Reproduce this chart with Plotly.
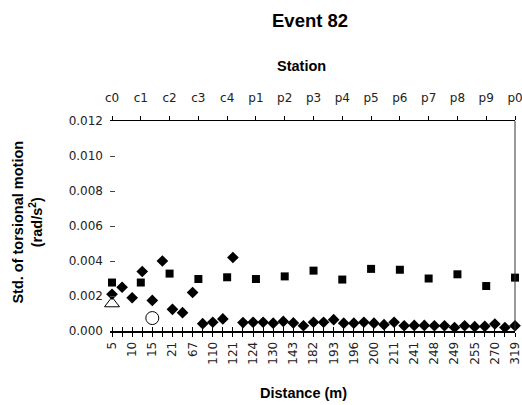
import plotly.graph_objects as go

# ---- data ----
distance_labels = ["5", "10", "15", "21", "67", "110", "121", "124", "130", "143",
                   "182", "193", "196", "200", "211", "241", "248", "249", "255", "270", "319"]
# 41 sensor positions on the distance (category) axis; labels shown every other position
sensor_pos = list(range(41))
diamond_vals = [0.0021, 0.0025, 0.0019, 0.0034, 0.00175, 0.0040, 0.00124, 0.00105, 0.0022,
                0.00042, 0.0005, 0.00069, 0.0042, 0.00048, 0.0005, 0.0005, 0.00045, 0.00055,
                0.00046, 0.0003, 0.0005, 0.0005, 0.00065, 0.00045, 0.00045, 0.0005, 0.00045,
                0.00036, 0.0005, 0.0003, 0.00032, 0.00032, 0.0003, 0.0003, 0.0002, 0.0003,
                0.00025, 0.00027, 0.0004, 0.0002, 0.0003]

stations = ["c0", "c1", "c2", "c3", "c4", "p1", "p2", "p3", "p4", "p5", "p6", "p7", "p8", "p9", "p0"]
square_vals = [0.00277, 0.00277, 0.00328, 0.00297, 0.00307, 0.00297, 0.00312, 0.00345,
               0.00294, 0.00355, 0.0035, 0.0030, 0.00324, 0.00257, 0.00305]

triangle_pos = [0]
triangle_vals = [0.00157]
circle_pos = [4]
circle_vals = [0.00074]

y_ticks = [0.000, 0.002, 0.004, 0.006, 0.008, 0.010, 0.012]

FONT = "Liberation Sans, Arial, sans-serif"
TICKFONT = "DejaVu Sans, Liberation Sans, sans-serif"
bottom_ticktext = [distance_labels[i // 2] if i % 2 == 0 else " " for i in sensor_pos]
x_range = [-0.2, 40]
x2_range = [-0.07, 14]

fig = go.Figure()
fig.add_trace(go.Scatter(x=sensor_pos, y=diamond_vals, mode="markers", xaxis="x", yaxis="y",
                         marker=dict(symbol="diamond", size=9, color="black"), cliponaxis=False,
                         showlegend=False))
fig.add_trace(go.Scatter(x=stations, y=square_vals, mode="markers", xaxis="x2", yaxis="y",
                         marker=dict(symbol="square", size=8, color="black"), cliponaxis=False,
                         showlegend=False))
fig.add_trace(go.Scatter(x=triangle_pos, y=triangle_vals, mode="markers", xaxis="x3", yaxis="y",
                         marker=dict(symbol="triangle-up-open", size=13, color="black",
                                     line=dict(width=1, color="black")), cliponaxis=False,
                         showlegend=False))
fig.add_trace(go.Scatter(x=circle_pos, y=circle_vals, mode="markers", xaxis="x3", yaxis="y",
                         marker=dict(symbol="circle-open", size=13, color="black",
                                     line=dict(width=1, color="black")), cliponaxis=False,
                         showlegend=False))

tickfont = dict(family=TICKFONT, size=12, color="#222")

fig.update_layout(
    width=522, height=405,
    margin=dict(l=110, r=7, t=121, b=74, autoexpand=False),
    paper_bgcolor="white", plot_bgcolor="white",
    xaxis=dict(range=x_range, tickmode="array", tickvals=sensor_pos, ticktext=bottom_ticktext,
               tickangle=-90, ticks="outside", ticklen=4, tickwidth=1, tickcolor="black",
               showline=True, linecolor="black", linewidth=2, showgrid=False, zeroline=False,
               tickfont=tickfont, anchor="y", automargin=False),
    xaxis3=dict(range=x_range, overlaying="x", anchor="y", side="bottom", tickmode="array",
                tickvals=sensor_pos, ticks="inside", ticklen=4, tickwidth=1, tickcolor="black",
                showticklabels=False, showline=False, showgrid=False, zeroline=False,
                automargin=False),
    xaxis2=dict(type="category", categoryorder="array", categoryarray=stations, range=x2_range,
                side="top", overlaying="x", anchor="y", ticks="outside", ticklen=4, tickwidth=1,
                tickcolor="black", showline=True, linecolor="black", linewidth=1,
                showgrid=False, zeroline=False, tickfont=tickfont, ticklabelstandoff=9,
                automargin=False),
    xaxis4=dict(type="category", categoryorder="array", categoryarray=stations, range=x2_range,
                side="top", overlaying="x", anchor="y", ticks="inside", ticklen=4, tickwidth=1,
                tickcolor="black", showticklabels=False, showline=False, showgrid=False,
                zeroline=False, automargin=False),
    yaxis=dict(range=[0, 0.012], tickmode="array", tickvals=y_ticks, tickformat=".3f",
               ticks="inside", ticklen=5, tickwidth=1, tickcolor="#444", showline=False,
               showgrid=False, zeroline=False, tickfont=tickfont, ticklabelstandoff=6,
               automargin=False),
    shapes=[dict(type="line", xref="paper", yref="paper", x0=1, x1=1, y0=0, y1=1,
                 line=dict(color="#333", width=1))],
    annotations=[
        dict(text="<b>Event 82</b>", xref="paper", yref="paper", x=0.494, y=1.48,
             showarrow=False, font=dict(family=FONT, size=18.5, color="black"),
             xanchor="center", yanchor="middle"),
        dict(text="<b>Station</b>", xref="paper", yref="paper", x=0.474, y=1.26,
             showarrow=False, font=dict(family=FONT, size=14.5, color="black"),
             xanchor="center", yanchor="middle"),
        dict(text="<b>Distance (m)</b>", xref="paper", yref="paper", x=0.477, y=-0.297,
             showarrow=False, font=dict(family=FONT, size=14.5, color="black"),
             xanchor="center", yanchor="middle"),
        dict(text="<b>Std. of torsional motion<br>(rad/s<sup>2</sup>)</b>", xref="paper",
             yref="paper", x=-0.203, y=0.52, textangle=-90, showarrow=False,
             font=dict(family=FONT, size=14.5, color="black"), xanchor="center",
             yanchor="middle"),
    ],
)

# remove the default 8px page margin so the 522x405 figure fills the window exactly
fig.write_html(
    "out.html",
    config={"displayModeBar": False},
    post_script=("document.documentElement.style.margin='0';"
                 "document.body.style.margin='0';"
                 "document.body.style.overflow='hidden';"),
)
